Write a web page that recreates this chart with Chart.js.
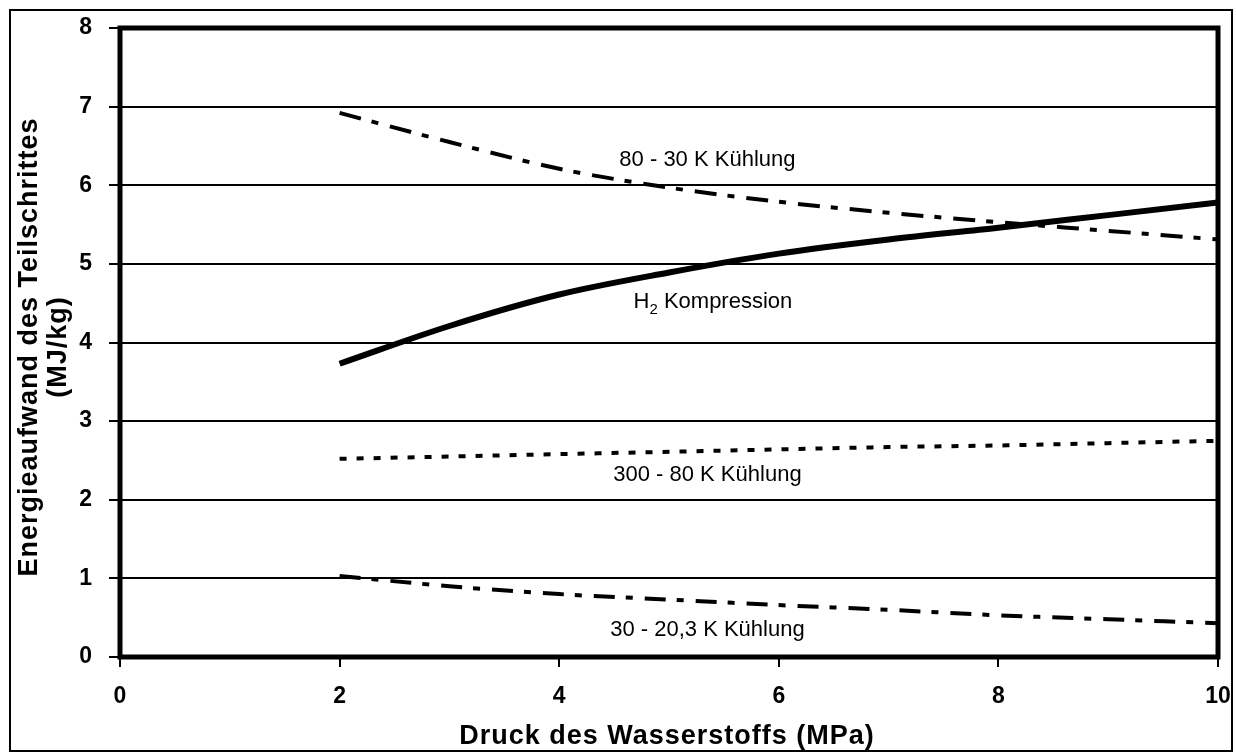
<!DOCTYPE html>
<html>
<head>
<meta charset="utf-8">
<script src="https://cdn.jsdelivr.net/npm/chart.js@4/dist/chart.umd.min.js"></script>
<style>
  body { margin: 0; background: #fff; }
  canvas { display: block; }
</style>
</head>
<body>
<canvas id="Chart" width="1236" height="753"></canvas>
<script>
// DATA
const druck = [2, 3, 4, 5, 6, 7, 8, 9, 10];
const kuehlung80_30 = [6.92, 6.55, 6.21, 5.97, 5.79, 5.65, 5.53, 5.42, 5.31];
const kompression = [3.73, 4.21, 4.61, 4.89, 5.13, 5.31, 5.46, 5.62, 5.78];
const kuehlung300_80 = [2.52, 2.55, 2.58, 2.61, 2.64, 2.67, 2.69, 2.72, 2.75];
const kuehlung30_20 = [1.03, 0.9, 0.8, 0.73, 0.66, 0.6, 0.53, 0.48, 0.43];

const xTicks = [0, 2, 4, 6, 8, 10];
const yTicks = [0, 1, 2, 3, 4, 5, 6, 7, 8];

const xTitle = "Druck des Wasserstoffs (MPa)";
const yTitle = ["Energieaufwand des Teilschrittes", "(MJ/kg)"];

// label text and where it sits (data units)
const labelText = ["80 - 30 K Kühlung", "Kompression", "300 - 80 K Kühlung", "30 - 20,3 K Kühlung"];
const labelX = [5.35, 5.4, 5.35, 5.35];
const labelY = [6.32, 4.52, 2.31, 0.34];

function pts(ys) {
  return druck.map((x, i) => ({ x: x, y: ys[i] }));
}

const tickFont = { family: "'Liberation Sans Narrow', 'Arial Narrow', 'Liberation Sans', Arial", size: 23, weight: "bold" };

const framePlugin = {
  id: "frame",
  afterDatasetsDraw(chart) {
    const ctx = chart.ctx;
    const a = chart.chartArea;
    ctx.save();
    ctx.strokeStyle = "#000";
    ctx.lineWidth = 5;
    ctx.strokeRect(a.left, a.top, a.right - a.left, a.bottom - a.top);
    ctx.restore();
  },
  afterDraw(chart) {
    const ctx = chart.ctx;
    const xs = chart.scales.x;
    const ys = chart.scales.y;
    ctx.save();
    // outer border
    ctx.strokeStyle = "#000";
    ctx.lineWidth = 2;
    ctx.strokeRect(10, 10, 1222, 741);

    ctx.fillStyle = "#000";
    ctx.textAlign = "center";
    ctx.textBaseline = "middle";

    // curve labels
    ctx.font = "22px 'Liberation Sans', Arial";
    for (let i = 0; i < labelText.length; i++) {
      const px = xs.getPixelForValue(labelX[i]);
      const py = ys.getPixelForValue(labelY[i]);
      if (i == 1) {
        const w1 = ctx.measureText("H").width;
        ctx.font = "15px 'Liberation Sans', Arial";
        const w2 = ctx.measureText("2").width;
        ctx.font = "22px 'Liberation Sans', Arial";
        const w3 = ctx.measureText(" " + labelText[i]).width;
        const left = px - (w1 + w2 + w3) / 2;
        ctx.textAlign = "left";
        ctx.fillText("H", left, py);
        ctx.font = "15px 'Liberation Sans', Arial";
        ctx.fillText("2", left + w1, py + 8);
        ctx.font = "22px 'Liberation Sans', Arial";
        ctx.fillText(" " + labelText[i], left + w1 + w2, py);
        ctx.textAlign = "center";
      } else {
        ctx.fillText(labelText[i], px, py);
      }
    }

    // axis titles
    ctx.font = "bold 27px 'Liberation Sans', Arial";
    ctx.letterSpacing = "1px";
    ctx.fillText(xTitle, 667, 737);

    ctx.translate(0, 347);
    ctx.rotate(-Math.PI / 2);
    ctx.fillText(yTitle[0], 0, 30);
    ctx.fillText(yTitle[1], 0, 59);
    ctx.restore();
  },
};

const data = {
  datasets: [
    {
      label: "80 - 30 K Kühlung",
      data: pts(kuehlung80_30),
      borderColor: "#000",
      borderWidth: 4,
      borderDash: [22, 11, 7, 12],
    },
    {
      label: "H2 Kompression",
      data: pts(kompression),
      borderColor: "#000",
      borderWidth: 6,
    },
    {
      label: "300 - 80 K Kühlung",
      data: pts(kuehlung300_80),
      borderColor: "#000",
      borderWidth: 4,
      borderDash: [7, 10],
    },
    {
      label: "30 - 20,3 K Kühlung",
      data: pts(kuehlung30_20),
      borderColor: "#000",
      borderWidth: 4,
      borderDash: [21, 11, 7, 12],
    },
  ],
};

const config = {
  type: "scatter",
  data: data,
  plugins: [framePlugin],
  options: {
    responsive: false,
    animation: false,
    showLine: true,
    layout: { padding: { top: 28, right: 18, left: 0, bottom: 0 } },
    elements: {
      point: { radius: 0 },
      line: { cubicInterpolationMode: "monotone", borderCapStyle: "butt", fill: false },
    },
    plugins: {
      legend: { display: false },
      tooltip: { enabled: false },
    },
    scales: {
      x: {
        type: "linear",
        min: 0,
        max: 10,
        afterBuildTicks: (s) => { s.ticks = xTicks.map((v) => ({ value: v })); },
        afterFit: (s) => { s.height = 96; s.paddingLeft = 0; s.paddingRight = 0; },
        ticks: { color: "#000", font: tickFont, padding: 16, maxRotation: 0 },
        grid: { drawOnChartArea: false, drawTicks: true, tickLength: 10, color: "#000", lineWidth: 2 },
        border: { display: false },
      },
      y: {
        type: "linear",
        min: 0,
        max: 8,
        afterBuildTicks: (s) => { s.ticks = yTicks.map((v) => ({ value: v })); },
        afterFit: (s) => { s.width = 120; s.paddingTop = 0; s.paddingBottom = 0; },
        ticks: { color: "#000", font: tickFont, padding: 17 },
        grid: { color: "#000", lineWidth: 2, tickLength: 11 },
        border: { display: false },
      },
    },
  },
};

const myChart = new Chart(document.getElementById("Chart"), config);
</script>
</body>
</html>
